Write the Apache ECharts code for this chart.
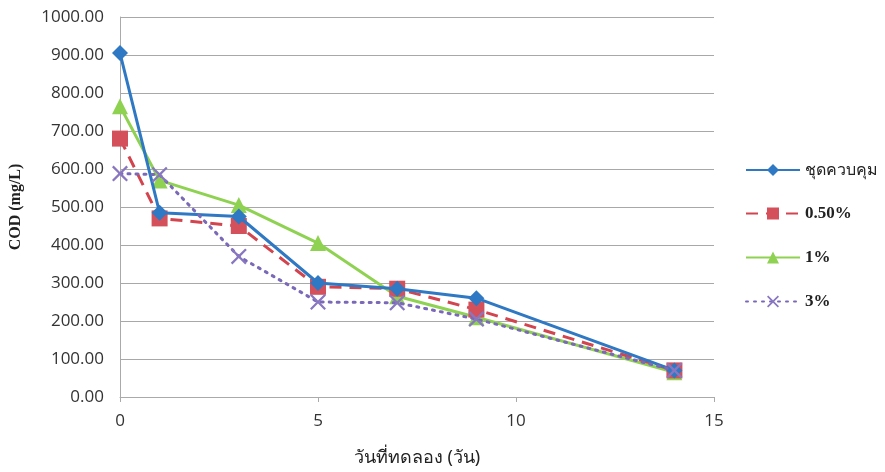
<!DOCTYPE html>
<html>
<head>
<meta charset="utf-8">
<script src="https://cdn.jsdelivr.net/npm/echarts@6/dist/echarts.min.js"></script>
<style>
  html, body { margin: 0; padding: 0; background: #fff; }
  #chart { width: 885px; height: 472px; }
</style>
</head>
<body>
<div id="chart"></div>
<script>
// Sampling days
const days = [0, 1, 3, 5, 7, 9, 14];

// COD (mg/L) per treatment
const control = [905, 485, 475, 300, 285, 260, 70];
const pct050 = [680, 470, 450, 290, 285, 230, 70];
const pct1 = [765, 570, 505, 405, 265, 210, 65];
const pct3 = [588, 585, 370, 250, 248, 205, 70];

const seriesNames = ['ชุดควบคุม', '0.50%', '1%', '3%'];

const xSymbol = 'path://M0,1 L1,0 L5,4 L9,0 L10,1 L6,5 L10,9 L9,10 L5,6 L1,10 L0,9 L4,5 Z';

function pairs(vals) {
  return days.map((d, i) => [d, vals[i]]);
}

const chart = echarts.init(document.getElementById('chart'));
chart.setOption({
  backgroundColor: '#fff',
  animation: false,
  grid: { left: 118, right: 171, top: 17, bottom: 74 },
  legend: {
    orient: 'vertical',
    left: 740,
    top: 157,
    itemWidth: 54,
    itemHeight: 15,
    itemGap: 27,
    textStyle: { fontFamily: 'Liberation Serif, Noto Sans', fontWeight: 'bold', fontSize: 17, color: '#222' },
    formatter: name => name === seriesNames[0] ? '{th|' + name + '}' : name,
    data: seriesNames
  },
  xAxis: {
    type: 'value',
    min: 0,
    max: 15,
    interval: 5,
    name: 'วันที่ทดลอง (วัน)',
    nameLocation: 'middle',
    nameGap: 52,
    nameTextStyle: { fontFamily: 'Noto Sans, DejaVu Sans', fontSize: 18, color: '#222' },
    axisLine: { lineStyle: { color: '#aaa', width: 1 } },
    axisTick: { show: true, length: 5, lineStyle: { color: '#aaa' } },
    axisLabel: { fontFamily: 'Open Sans, Liberation Sans', fontSize: 17, color: '#333', margin: 16 },
    splitLine: { show: false }
  },
  yAxis: {
    type: 'value',
    min: 0,
    max: 1000,
    interval: 100,
    name: 'COD (mg/L)',
    nameLocation: 'middle',
    nameGap: 96,
    nameRotate: 90,
    nameTextStyle: { fontFamily: 'Liberation Serif', fontWeight: 'bold', fontSize: 16, color: '#222' },
    axisLine: { show: true, lineStyle: { color: '#aaa', width: 1 } },
    axisTick: { show: false },
    axisLabel: {
      fontFamily: 'Open Sans, Liberation Sans',
      fontSize: 17,
      color: '#333',
      margin: 16,
      formatter: v => v.toFixed(2)
    },
    splitLine: { lineStyle: { color: '#a8a8a8', width: 1 } }
  },
  series: [
    {
      name: seriesNames[0],
      type: 'line',
      data: pairs(control),
      symbol: 'diamond',
      symbolSize: 16,
      lineStyle: { color: '#2f78c4', width: 3 },
      itemStyle: { color: '#2f78c4' },
      z: 4
    },
    {
      name: seriesNames[1],
      type: 'line',
      data: pairs(pct050),
      symbol: 'rect',
      symbolSize: 16,
      lineStyle: { color: '#d2454f', width: 3, type: [12, 8] },
      itemStyle: { color: '#d4505a' },
      z: 3
    },
    {
      name: seriesNames[2],
      type: 'line',
      data: pairs(pct1),
      symbol: 'triangle',
      symbolSize: 16,
      lineStyle: { color: '#8fd252', width: 3 },
      itemStyle: { color: '#8fd252' },
      z: 2
    },
    {
      name: seriesNames[3],
      type: 'line',
      data: pairs(pct3),
      symbol: xSymbol,
      symbolSize: 16,
      lineStyle: { color: '#7a68b8', width: 3, type: [2, 6], cap: 'round' },
      itemStyle: { color: '#8877c0' },
      z: 5
    }
  ]
});
// Thai legend entry uses a lighter face so it fits beside the plot
chart.setOption({
  legend: {
    textStyle: {
      rich: { th: { fontFamily: 'Noto Sans, DejaVu Sans', fontWeight: 'normal', fontSize: 16, color: '#222' } }
    }
  }
});
</script>
</body>
</html>
